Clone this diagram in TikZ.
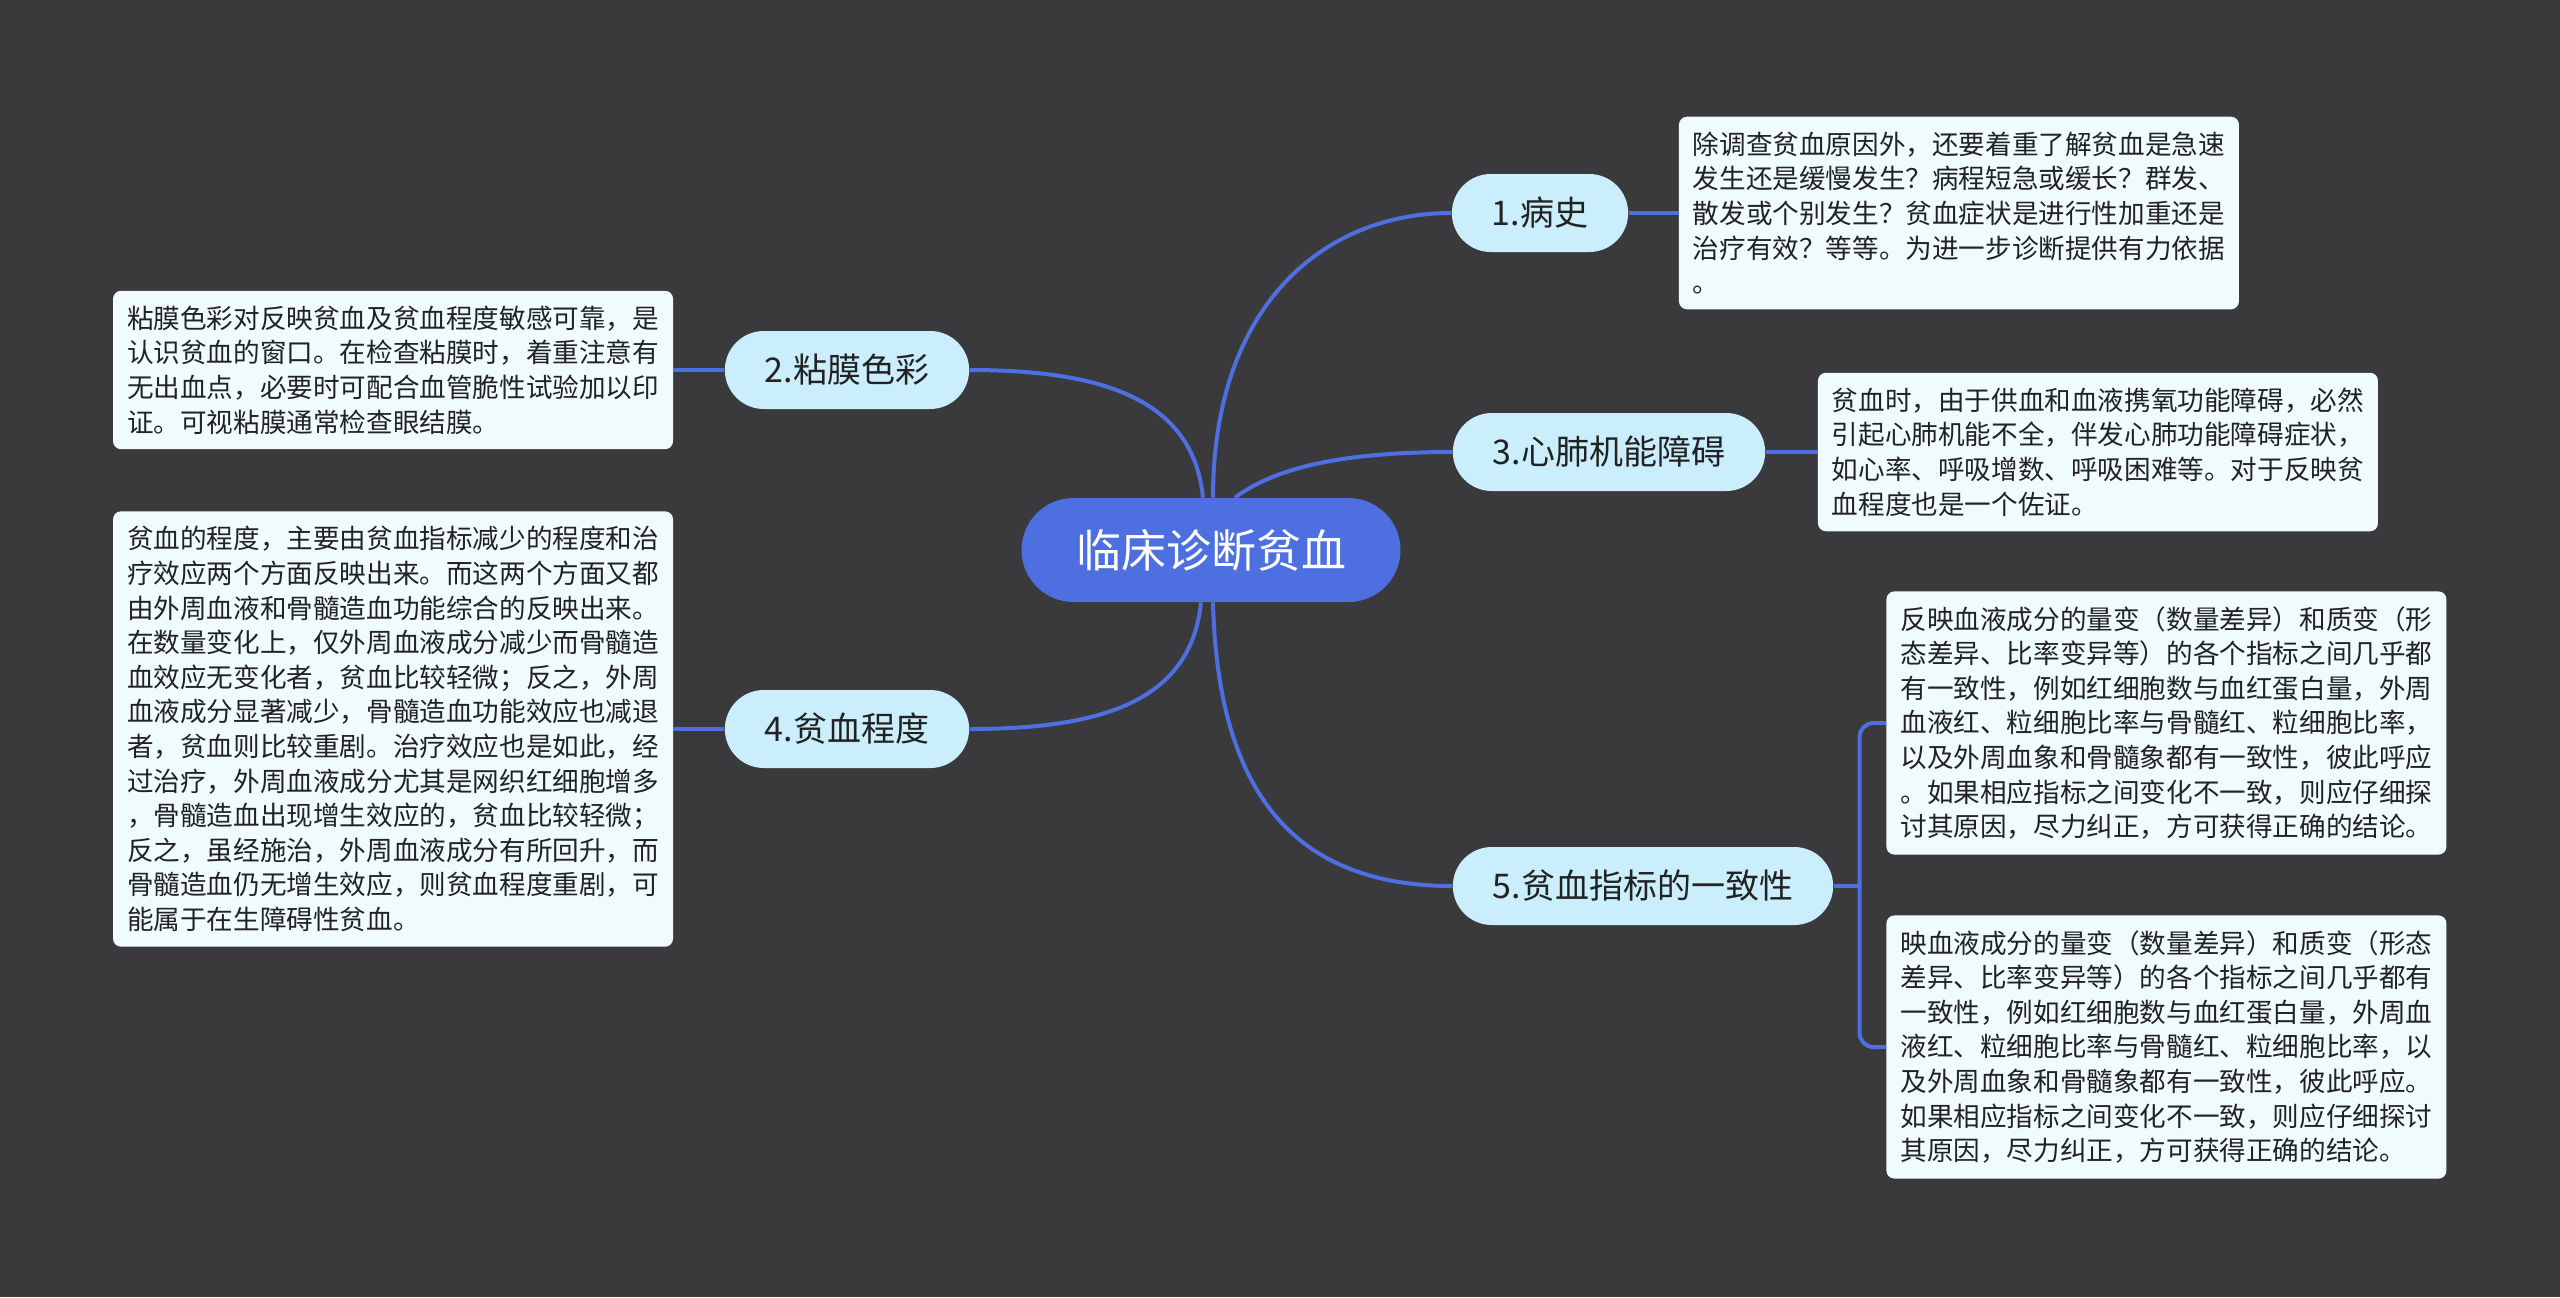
\documentclass[tikz,border=0pt]{standalone}
\usepackage{fontspec}
\setmainfont{Noto Sans CJK SC}
\usetikzlibrary{calc,positioning}
\definecolor{BgCanvas}{HTML}{3A393B}
\definecolor{RootFill}{HTML}{4E6FE0}
\definecolor{TopicFill}{HTML}{CAEEFC}
\definecolor{NoteFill}{HTML}{F0FBFE}
\definecolor{LinkLine}{HTML}{4E6FE0}
\definecolor{InkDark}{HTML}{222222}

\begin{document}
\begin{tikzpicture}[
        x=0.5pt, y=-0.5pt,
        root/.style={
            rounded corners=26pt,
            fill=RootFill,
            text=white,
            minimum width=189.5pt,
            minimum height=52pt,
            inner sep=0pt,
            font=\fontsize{22.5pt}{27pt}\selectfont
        },
        topic/.style={
            rounded corners=19.5pt,
            fill=TopicFill,
            text=InkDark,
            minimum height=39pt,
            inner xsep=20pt,
            inner ysep=0pt,
            font=\fontsize{17pt}{20pt}\selectfont
        },
        note/.style={
            rounded corners=4pt,
            fill=NoteFill,
            text=InkDark,
            text width=266pt,
            align=left,
            inner xsep=7pt,
            inner ysep=7.5pt,
            font=\fontsize{13.3pt}{17.3pt}\selectfont
        },
        link/.style={draw=LinkLine, line width=2pt}
    ]
        \fill[BgCanvas] (0,0) rectangle (2560,1297);
        \useasboundingbox (0,0) rectangle (2560,1297);

        \node[root] (root) at (1211,550) {临床诊断贫血};

        \node[topic] (hist) at (1540,213) {1.病史};
        \node[topic] (heart) at (1609,452) {3.心肺机能障碍};
        \node[topic] (index) at (1643,886) {5.贫血指标的一致性};
        \node[topic] (mucosa) at (847,370) {2.粘膜色彩};
        \node[topic] (degree) at (847,729) {4.贫血程度};

        \node[note, right=25pt of hist] (histnote) {除调查贫血原因外，还要着重了解贫血是急速\\发生还是缓慢发生？病程短急或缓长？群发、\\散发或个别发生？贫血症状是进行性加重还是\\治疗有效？等等。为进一步诊断提供有力依据\\。};
        \node[note, right=26pt of heart] (heartnote) {贫血时，由于供血和血液携氧功能障碍，必然\\引起心肺机能不全，伴发心肺功能障碍症状，\\如心率、呼吸增数、呼吸困难等。对于反映贫\\血程度也是一个佐证。};
        \node[note, anchor=west] (indexnote1) at (1886,723) {反映血液成分的量变（数量差异）和质变（形\\态差异、比率变异等）的各个指标之间几乎都\\有一致性，例如红细胞数与血红蛋白量，外周\\血液红、粒细胞比率与骨髓红、粒细胞比率，\\以及外周血象和骨髓象都有一致性，彼此呼应\\。如果相应指标之间变化不一致，则应仔细探\\讨其原因，尽力纠正，方可获得正确的结论。};
        \node[note, anchor=west] (indexnote2) at (1886,1047) {映血液成分的量变（数量差异）和质变（形态\\差异、比率变异等）的各个指标之间几乎都有\\一致性，例如红细胞数与血红蛋白量，外周血\\液红、粒细胞比率与骨髓红、粒细胞比率，以\\及外周血象和骨髓象都有一致性，彼此呼应。\\如果相应指标之间变化不一致，则应仔细探讨\\其原因，尽力纠正，方可获得正确的结论。};
        \node[note, left=25.5pt of mucosa] (mucosanote) {粘膜色彩对反映贫血及贫血程度敏感可靠，是\\认识贫血的窗口。在检查粘膜时，着重注意有\\无出血点，必要时可配合血管脆性试验加以印\\证。可视粘膜通常检查眼结膜。};
        \node[note, left=25.5pt of degree] (degreenote) {贫血的程度，主要由贫血指标减少的程度和治\\疗效应两个方面反映出来。而这两个方面又都\\由外周血液和骨髓造血功能综合的反映出来。\\在数量变化上，仅外周血液成分减少而骨髓造\\血效应无变化者，贫血比较轻微；反之，外周\\血液成分显著减少，骨髓造血功能效应也减退\\者，贫血则比较重剧。治疗效应也是如此，经\\过治疗，外周血液成分尤其是网织红细胞增多\\，骨髓造血出现增生效应的，贫血比较轻微；\\反之，虽经施治，外周血液成分有所回升，而\\骨髓造血仍无增生效应，则贫血程度重剧，可\\能属于在生障碍性贫血。};

        % main branches
        \draw[link] ([xshift=1pt]root.north) .. controls +(0,-190) and +(-130,0) .. (hist.west);
        \draw[link] ([xshift=12pt]root.north) .. controls +(40,-30) and +(-110,0) .. (heart.west);
        \draw[link] ([xshift=1pt]root.south) .. controls +(5,200) and +(-150,0) .. (index.west);
        \draw[link] ([xshift=-4pt]root.north) .. controls +(-10,-100) and +(130,0) .. (mucosa.east);
        \draw[link] ([xshift=-5pt]root.south) .. controls +(-10,100) and +(130,0) .. (degree.east);

        % notes
        \draw[link] (hist.east) -- (histnote.west);
        \draw[link] (heart.east) -- (heartnote.west);
        \draw[link] (mucosa.west) -- (mucosanote.east);
        \draw[link] (degree.west) -- (degreenote.east);
        \coordinate (fork) at ($(index.east)+(13pt,0)$);
        \draw[link] (index.east) -- (fork);
        \draw[link, rounded corners=7pt] (fork) |- (indexnote1.west);
        \draw[link, rounded corners=7pt] (fork) |- (indexnote2.west);
    \end{tikzpicture}
\end{document}
